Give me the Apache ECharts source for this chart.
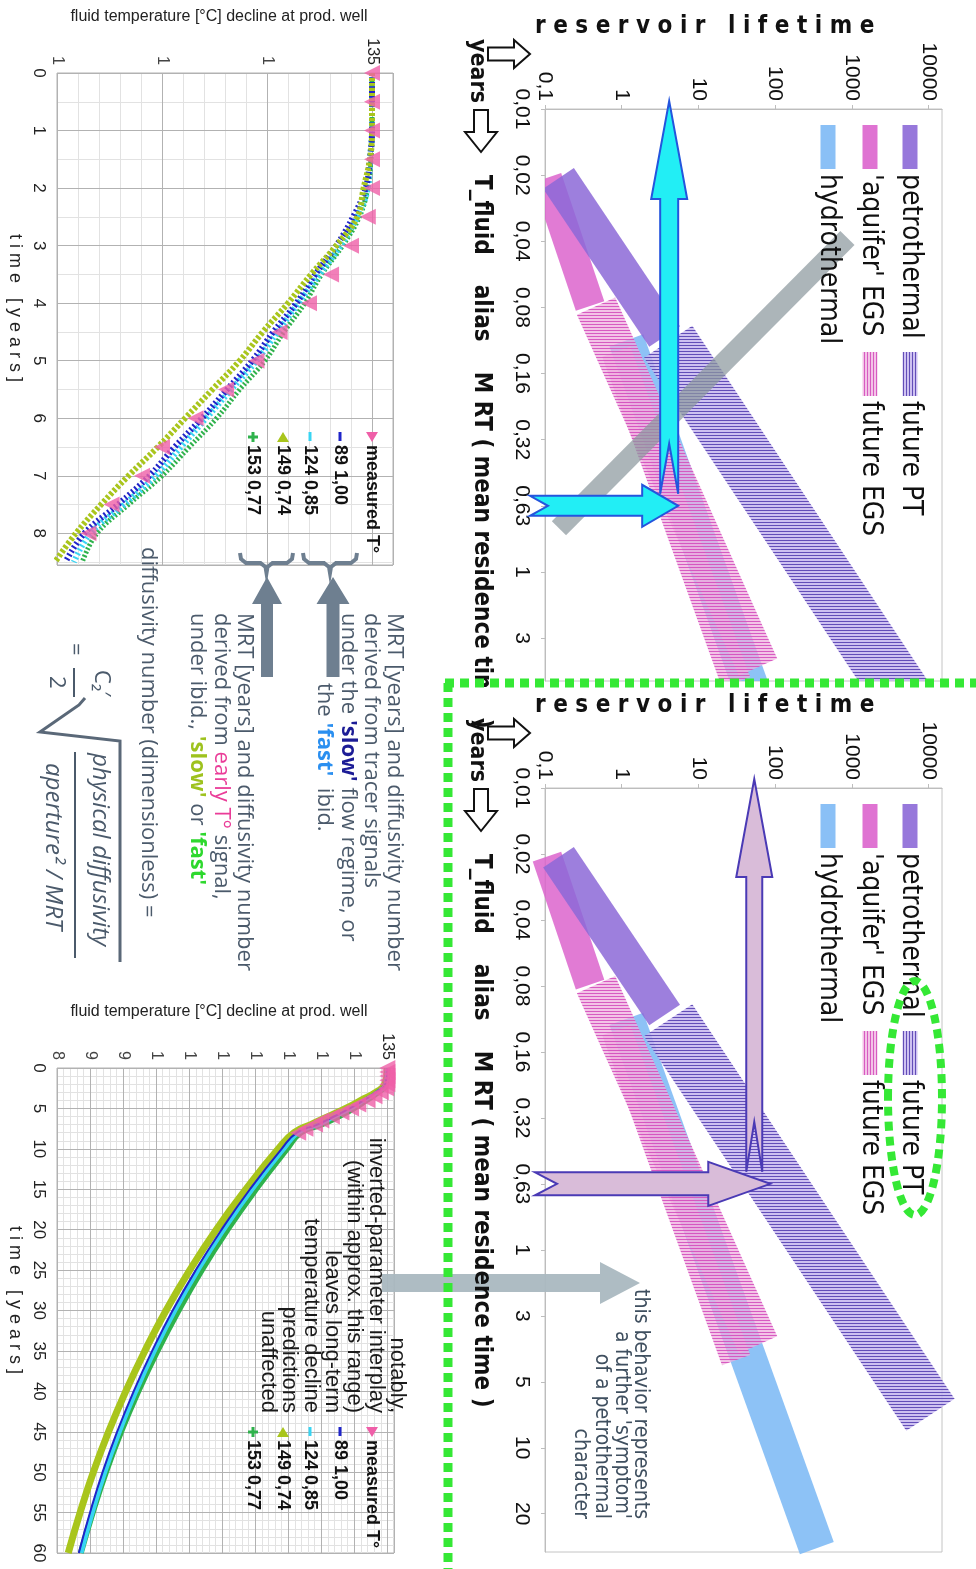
<!DOCTYPE html>
<html>
<head>
<meta charset="utf-8">
<title>Reservoir lifetime vs. MRT</title>
<script src="https://cdn.jsdelivr.net/npm/echarts@6/dist/echarts.min.js"></script>
<style>
html,body{margin:0;padding:0;background:#ffffff;}
#chart{width:976px;height:1569px;}
</style>
</head>
<body>
<div id="chart"></div>
<script>
// ================= DATA =================
// fluid temperature [°C] at the production well, first 8.5 years
const timeEarly = [0,0.5,1,1.5,2,2.5,3,3.5,4,4.5,5,5.5,6,6.5,7,7.5,8,8.5];
const timeMeasured = [0,0.5,1,1.5,2,2.5,3,3.5,4,4.5,5,5.5,6,6.5,7,7.5,8];
const measuredT = [135,135,135,135,135,134.8,134.0,133.05,132.0,130.6,129.5,128.05,126.6,125.0,124.05,122.6,121.5];
const early89_100  = [135,135,135,134.9,134.7,134.1,133.3,132.3,131.4,130.3,129.3,128.1,126.9,125.6,124.4,122.9,121.3,120.4];
const early124_085 = [135,135,135,134.9,134.8,134.3,133.5,132.5,131.5,130.5,129.5,128.3,127.1,125.9,124.7,123.2,121.6,120.8];
const early149_074 = [135,135,135,134.9,134.6,134.3,133.3,132.1,131.0,129.8,128.7,127.4,126.1,124.8,123.4,122.1,120.9,119.9];
const early153_077 = [135,135,135,134.95,134.8,134.4,133.6,132.6,131.8,130.8,129.9,128.7,127.6,126.3,125.0,123.4,121.9,121.2];

// long-term prediction, 0-60 years
const timeLong = [0,2,3,4,5,6,7,8,10,15,20,25,30,35,40,45,50,55,60];
const long89_100  = [135,134.7,133.3,131.4,129.3,126.9,124.4,121.3,119.0,114.2,109.9,106.0,102.5,99.4,96.6,94.1,91.9,90.0,88.3];
const long124_085 = [135,134.8,133.5,131.5,129.5,127.1,124.7,121.6,119.4,114.6,110.3,106.4,102.9,99.8,97.0,94.5,92.3,90.4,88.7];
const long149_074 = [135,134.6,133.3,131.0,128.7,126.1,123.4,120.9,118.5,113.6,109.1,105.1,101.5,98.3,95.4,92.8,90.5,88.5,86.7];
const long153_077 = [135,134.8,133.6,131.8,129.9,127.6,125.0,121.9,119.8,115.1,110.8,106.9,103.4,100.2,97.3,94.7,92.4,90.4,88.6];
const fitLabels = ['89 1,00','124 0,85','149 0,74','153 0,77'];
const measuredLabel = 'measured T°';

// reservoir lifetime (log, years) vs. MRT (ordinal positions of these labels)
const mrtLabels = ['0,01','0,02','0,04','0,08','0,16','0,32','0,63','1','3','5','10','20'];
const bandNames = ['hydrothermal', "'aquifer' EGS", 'petrothermal', 'future EGS', 'future EGS', 'future PT'];
const bandStartLifetime = [1.15, 0.106, 0.15, 0.463, 0.85, 4.03];
const bandStartMRT      = [3.5, 1.04, 1.05, 2.98, 3.67, 3.52];
const bandEndLifetime   = [350, 0.387, 3.63, 60, 31, 10600];
const bandEndMRT        = [11.52, 2.98, 3.44, 8.44, 8.67, 9.5];
const greyBarLifetime = [0.152, 877];
const greyBarMRT = [6.34, 1.95];
const annotC = {lifetime: 4.16, mrt: 6};
const annotD = {lifetime: 53.5, mrt: 6};

// ================= STYLE =================
const FA = '"Liberation Sans", Arial, sans-serif';
const FC = '"DejaVu Sans Condensed", "Liberation Sans Narrow", "Roboto", sans-serif';
const FO = '"Open Sans", "Noto Sans", sans-serif';
const C_PINK = '#ef5fa8', C_BLUE = '#1f24c9', C_CYAN = '#38d4f2', C_YG = '#a9c51c', C_GREEN = '#2fb24c';
const MAJOR = '#b2b2b2', MINOR = '#e2e2e2';

function stripes(bg, fg, step, lw, vertical) {
  const c = document.createElement('canvas'); c.width = step; c.height = step;
  const g = c.getContext('2d'); g.fillStyle = bg; g.fillRect(0, 0, step, step);
  g.fillStyle = fg; if (vertical) g.fillRect(0, 0, lw, step); else g.fillRect(0, 0, step, lw); return c;
}
const PINK_BG = 'rgba(238,172,222,0.72)', PINK_FG = 'rgba(212,80,188,0.9)';
const PURP_BG = 'rgba(198,182,238,0.85)', PURP_FG = 'rgba(88,66,178,0.9)';
const pinkHatch = {image: stripes(PINK_BG, PINK_FG, 3, 1), repeat: 'repeat'};
const purpleHatch = {image: stripes(PURP_BG, PURP_FG, 3, 1), repeat: 'repeat'};
const pinkHatchV = {image: stripes(PINK_BG, PINK_FG, 3, 1, true), repeat: 'repeat'};
const purpleHatchV = {image: stripes(PURP_BG, PURP_FG, 3, 1, true), repeat: 'repeat'};
const BAND_STYLE = [
  {w: 36, fill: 'rgba(125,185,245,0.88)'},
  {w: 30, fill: 'rgba(220,100,205,0.85)'},
  {w: 37, fill: 'rgba(140,105,215,0.85)'},
  {w: 42, fill: pinkHatch},
  {w: 30, fill: pinkHatch},
  {w: 58, fill: purpleHatch}
];

const chart = echarts.init(document.getElementById('chart'), null, {renderer: 'canvas', width: 976, height: 1569});

const zipTT = (times, temps) => temps.map((T, i) => [T, times[i]]);

function bandShape(api, w, fill) {
  const p1 = api.coord([api.value(0), api.value(1)]);
  const p2 = api.coord([api.value(2), api.value(3)]);
  const dx = p2[0] - p1[0], dy = p2[1] - p1[1], L = Math.hypot(dx, dy);
  const nx = -dy / L * w / 2, ny = dx / L * w / 2;
  return {type: 'polygon', shape: {points: [[p1[0]+nx, p1[1]+ny], [p2[0]+nx, p2[1]+ny], [p2[0]-nx, p2[1]-ny], [p1[0]-nx, p1[1]-ny]]}, style: {fill: fill}};
}
function bandSeries(i, ax, clip) {
  return {type: 'custom', name: bandNames[i], xAxisIndex: ax, yAxisIndex: ax, clip: clip, z: 2,
    data: [[bandStartLifetime[i], bandStartMRT[i], bandEndLifetime[i], bandEndMRT[i]]],
    encode: {x: [0, 2], y: [1, 3]},
    renderItem: (p, api) => bandShape(api, BAND_STYLE[i].w, BAND_STYLE[i].fill)};
}

// ----- axes -----
function tempMinor(grid, min, max) {
  return {gridIndex: grid, type: 'value', position: 'bottom', min, max, interval: 1, z: 0,
    axisLine: {show: false}, axisTick: {show: false}, axisLabel: {show: false},
    splitLine: {show: true, lineStyle: {color: MINOR}}};
}
function tempMain(grid, min, max) {
  return {gridIndex: grid, type: 'value', position: 'top', min, max, interval: 5, z: 1,
    axisLine: {show: false}, axisTick: {show: false},
    splitLine: {show: true, lineStyle: {color: MAJOR}},
    axisLabel: {rotate: -90, margin: 8, fontSize: 16, color: '#222', fontFamily: FA, showMaxLabel: false,
      formatter: v => (v === 135 ? '135' : '')}};
}
function tempTrunc(grid, min, max) {
  return {gridIndex: grid, type: 'value', position: 'top', min, max, interval: 5,
    axisLine: {show: false}, axisTick: {show: false}, splitLine: {show: false},
    axisLabel: {rotate: -90, margin: 8, fontSize: 16, color: '#444', fontFamily: FA, showMaxLabel: false,
      width: 10, overflow: 'truncate', ellipsis: '',
      formatter: v => (v !== 135 && v % 5 === 0 ? String(v) : '')}};
}
function timeMinor(grid, max, step) {
  return {gridIndex: grid, type: 'value', position: 'right', inverse: true, min: 0, max, interval: step, z: 0,
    axisLine: {show: false}, axisTick: {show: false}, axisLabel: {show: false},
    splitLine: {show: true, lineStyle: {color: MINOR}}};
}
function timeMain(grid, max, step) {
  return {gridIndex: grid, type: 'value', position: 'left', inverse: true, min: 0, max, interval: step, z: 1,
    axisLine: {show: false}, axisTick: {show: false},
    splitLine: {show: true, lineStyle: {color: MAJOR}},
    axisLabel: {rotate: -90, margin: 10, fontSize: 17, color: '#222', fontFamily: FA,
      formatter: v => (Math.abs(v - Math.round(v)) < 1e-6 && (max === 60 || v <= 8) ? String(Math.round(v)) : '')}};
}
function lifeAxis(grid) {
  return {gridIndex: grid, type: 'log', logBase: 10, position: 'top', min: 0.1, max: 15000,
    axisLine: {show: true, lineStyle: {color: '#bdbdbd'}}, axisTick: {show: true, length: 4, lineStyle: {color: '#bdbdbd'}},
    splitLine: {show: false}, minorTick: {show: false},
    axisLabel: {rotate: -90, margin: 8, fontSize: 21, color: '#111', fontFamily: FA, showMaxLabel: false,
      formatter: v => String(+(+v).toPrecision(6)).replace('.', ',')}};
}
function mrtAxis(grid, max) {
  return {gridIndex: grid, type: 'value', inverse: true, min: 0, max, interval: 1, position: 'left',
    axisLine: {show: true, lineStyle: {color: '#bdbdbd'}}, axisTick: {show: true, length: 4, lineStyle: {color: '#bdbdbd'}},
    splitLine: {show: false},
    axisLabel: {rotate: -90, margin: 13, fontSize: 21, color: '#111', fontFamily: FA, showMaxLabel: false,
      formatter: v => { const r = Math.round(v); return (Math.abs(v - r) < 1e-6 && r < mrtLabels.length) ? mrtLabels[r] : ''; }}};
}
const hiddenY = g => ({gridIndex: g, type: 'value', show: false, min: 0, max: 1});

const option = {
  animation: false,
  backgroundColor: '#ffffff',
  grid: [
    {left: 57, top: 73, width: 336, height: 492, show: true, borderColor: MAJOR, borderWidth: 1},
    {left: 57, top: 1068, width: 337, height: 485, show: true, borderColor: MAJOR, borderWidth: 1},
    {left: 545, top: 109, width: 397, height: 572, show: true, borderColor: '#c4c4c4', borderWidth: 1},
    {left: 545, top: 788, width: 397, height: 764, show: true, borderColor: '#c4c4c4', borderWidth: 1},
    {left: 57, top: 73, width: 336, height: 492},
    {left: 57, top: 1068, width: 337, height: 485}
  ],
  xAxis: [tempMinor(0, 120, 136), tempMain(0, 120, 136), tempMinor(1, 85, 136), tempMain(1, 85, 136),
          lifeAxis(2), lifeAxis(3), tempTrunc(4, 120, 136), tempTrunc(5, 85, 136)],
  yAxis: [timeMinor(0, 8.55, 0.5), timeMain(0, 8.55, 1), timeMinor(1, 60, 1), timeMain(1, 60, 5),
          mrtAxis(2, 8.65), mrtAxis(3, 11.58), hiddenY(4), hiddenY(5)],
  series: [
    // ---- early decline (top left) ----
    {type: 'line', name: fitLabels[3], xAxisIndex: 1, yAxisIndex: 1, data: zipTT(timeEarly, early153_077), smooth: 0.4, symbol: 'none', lineStyle: {color: C_GREEN, width: 5, type: [2, 2]}, z: 3},
    {type: 'line', name: fitLabels[1], xAxisIndex: 1, yAxisIndex: 1, data: zipTT(timeEarly, early124_085), smooth: 0.4, symbol: 'none', lineStyle: {color: C_CYAN, width: 6, type: [2, 2.5]}, z: 3},
    {type: 'line', name: fitLabels[0], xAxisIndex: 1, yAxisIndex: 1, data: zipTT(timeEarly, early89_100), smooth: 0.4, symbol: 'none', lineStyle: {color: C_BLUE, width: 6, type: [2, 2.5]}, z: 4},
    {type: 'line', name: fitLabels[2], xAxisIndex: 1, yAxisIndex: 1, data: zipTT(timeEarly, early149_074), smooth: 0.4, symbol: 'none', lineStyle: {color: C_YG, width: 6, type: [3, 2]}, z: 4},
    {type: 'scatter', name: measuredLabel, xAxisIndex: 1, yAxisIndex: 1, data: zipTT(timeMeasured, measuredT), symbol: 'triangle', symbolSize: 16, symbolRotate: 90, itemStyle: {color: C_PINK}, z: 6},
    // ---- long-term (bottom left) ----
    {type: 'line', name: fitLabels[2], xAxisIndex: 3, yAxisIndex: 3, data: zipTT(timeLong, long149_074), smooth: 0.5, symbol: 'none', lineStyle: {color: C_YG, width: 7}, z: 3},
    {type: 'line', name: fitLabels[3], xAxisIndex: 3, yAxisIndex: 3, data: zipTT(timeLong, long153_077), smooth: 0.5, symbol: 'none', lineStyle: {color: C_GREEN, width: 6}, z: 3},
    {type: 'line', name: fitLabels[1], xAxisIndex: 3, yAxisIndex: 3, data: zipTT(timeLong, long124_085), smooth: 0.5, symbol: 'none', lineStyle: {color: C_CYAN, width: 4}, z: 4},
    {type: 'line', name: fitLabels[0], xAxisIndex: 3, yAxisIndex: 3, data: zipTT(timeLong, long89_100), smooth: 0.5, symbol: 'none', lineStyle: {color: C_BLUE, width: 2}, z: 4},
    {type: 'scatter', name: measuredLabel, xAxisIndex: 3, yAxisIndex: 3, data: zipTT(timeMeasured, measuredT), symbol: 'triangle', symbolSize: 16, symbolRotate: 90, itemStyle: {color: C_PINK}, z: 6},
    // ---- lifetime bands (top right, clipped) ----
    bandSeries(0, 4, true), bandSeries(1, 4, true), bandSeries(2, 4, true), bandSeries(3, 4, true), bandSeries(4, 4, true), bandSeries(5, 4, true),
    {type: 'custom', name: 'range', xAxisIndex: 4, yAxisIndex: 4, clip: true, z: 3,
      data: [[greyBarLifetime[0], greyBarMRT[0], greyBarLifetime[1], greyBarMRT[1]]], encode: {x: [0, 2], y: [1, 3]},
      renderItem: (p, api) => bandShape(api, 20, 'rgba(140,152,158,0.72)')},
    // ---- lifetime bands (bottom right) ----
    bandSeries(0, 5, false), bandSeries(1, 5, false), bandSeries(2, 5, false), bandSeries(3, 5, false), bandSeries(4, 5, false), bandSeries(5, 5, false)
  ]
};
chart.setOption(option);

// ================= ANNOTATIONS =================
const ROT = -Math.PI / 2;
function vtext(x, y, text, font, fill, align, rich) {
  const st = {text, font, fill, textAlign: align || 'left', textVerticalAlign: 'middle', align: align || 'left', verticalAlign: 'middle'};
  if (rich) st.rich = rich;
  return {type: 'text', x, y, rotation: ROT, z: 30, silent: true, style: st};
}
function htext(x, y, text, font, fill, align) {
  return {type: 'text', x, y, z: 30, silent: true, style: {text, font, fill, textAlign: align || 'left', textVerticalAlign: 'middle', align: align || 'left', verticalAlign: 'middle'}};
}
function arrowPts(x1, y1, x2, y2, sw, hw, hl, nd) {
  const dx = x2 - x1, dy = y2 - y1, L = Math.hypot(dx, dy), ux = dx / L, uy = dy / L, vx = -uy, vy = ux;
  const P = (a, b) => [x1 + ux * a + vx * b, y1 + uy * a + vy * b];
  return [P(0, -sw/2), P(L-hl, -sw/2), P(L-hl, -hw/2), P(L, 0), P(L-hl, hw/2), P(L-hl, sw/2), P(0, sw/2), P(nd, 0)];
}
function poly(points, fill, stroke, lw, z) {
  return {type: 'polygon', shape: {points}, z: z || 20, silent: true, style: {fill, stroke: stroke || null, lineWidth: lw || 0}};
}
function pline(points, stroke, lw, dash, z) {
  const st = {stroke, lineWidth: lw, fill: null};
  if (dash) st.lineDash = dash;
  return {type: 'polyline', shape: {points}, z: z || 25, silent: true, style: st};
}
const G = [];

// ---- left charts: titles, axis names, legends ----
[17, 1012].forEach(y => G.push(htext(219, y, 'fluid temperature [°C] decline at prod. well', '16px ' + FA, '#222', 'center')));
G.push(vtext(15, 308, 't i m e   [ y e a r s ]', '18px ' + FA, '#222', 'center'));
G.push(vtext(15, 1300, 't i m e   [ y e a r s ]', '18px ' + FA, '#222', 'center'));

function legendAB(y0) {
  const xs = [372, 340, 310, 283, 253];
  const labels = [measuredLabel].concat(fitLabels);
  G.push(poly([[xs[0]-6, y0], [xs[0]+6, y0], [xs[0], y0+10]], C_PINK, null, 0, 31));
  G.push({type: 'rect', shape: {x: xs[1]-1.5, y: y0, width: 3, height: 9}, z: 31, silent: true, style: {fill: C_BLUE}});
  G.push({type: 'rect', shape: {x: xs[2]-1.5, y: y0, width: 3, height: 9}, z: 31, silent: true, style: {fill: C_CYAN}});
  G.push(poly([[xs[3]-6, y0+10], [xs[3]+6, y0+10], [xs[3], y0]], C_YG, null, 0, 31));
  G.push(poly([[xs[4]-1.5, y0], [xs[4]+1.5, y0], [xs[4]+1.5, y0+3.5], [xs[4]+5, y0+3.5], [xs[4]+5, y0+6.5], [xs[4]+1.5, y0+6.5], [xs[4]+1.5, y0+10], [xs[4]-1.5, y0+10], [xs[4]-1.5, y0+6.5], [xs[4]-5, y0+6.5], [xs[4]-5, y0+3.5], [xs[4]-1.5, y0+3.5]], C_GREEN, null, 0, 31));
  labels.forEach((t, i) => G.push(vtext(xs[i], y0 + 13, t, 'bold 18px ' + FA, '#111', 'left')));
}
legendAB(432);
legendAB(1427);

// ---- "notably ..." inside the long-term chart ----
['notably,', 'inverted-parameter interplay', '(within approx. this range)', 'leaves long-term', 'temperature decline', 'predictions', 'unaffected']
  .forEach((t, i) => G.push(vtext([397, 376, 354, 332, 311, 289, 268][i], 1413, t, '22px ' + FA, '#1a1a1a', 'right')));

// ---- middle explanation ----
const braceCol = '#6e7f90';
function brace(x1, x2, y) {
  const m = (x1 + x2) / 2;
  G.push(pline([[x1, y], [x1+1, y+6], [x1+6, y+10], [m-6, y+10], [m-1, y+14], [m, y+20], [m+1, y+14], [m+6, y+10], [x2-6, y+10], [x2-1, y+6], [x2, y]], braceCol, 4));
}
brace(303, 357, 553);
brace(240, 293, 553);
G.push(poly(arrowPts(333, 677, 333, 577, 13, 33, 27, 0), braceCol));
G.push(poly(arrowPts(267, 677, 267, 577, 12, 30, 27, 0), braceCol));
const TXT = '#4b5a6b';
const FT = '22px ' + FO, FTB = 'bold 22px ' + FO;
G.push(vtext(394, 613, 'MRT [years] and diffusivity number', FT, TXT));
G.push(vtext(371, 613, 'derived from tracer signals', FT, TXT));
G.push(vtext(348, 613, "under the {s|'slow'} flow regime, or", FT, TXT, 'left', {s: {font: FTB, fill: '#1c1c96'}}));
G.push(vtext(324, 683, "the {f|'fast'}  ibid.", FT, TXT, 'left', {f: {font: FTB, fill: '#2a8ff0'}}));
G.push(vtext(244, 613, 'MRT [years] and diffusivity number', FT, TXT));
G.push(vtext(221, 613, 'derived from {e|early T°} signal,', FT, TXT, 'left', {e: {font: FT, fill: '#ea3c98'}}));
G.push(vtext(197, 613, "under ibid., {y|'slow'} or {g|'fast'}", FT, TXT, 'left', {y: {font: FTB, fill: '#9ec21e'}, g: {font: FTB, fill: '#2ed82e'}}));
G.push(vtext(148, 547, 'diffusivity number (dimensionless) =', FT, TXT));
G.push(vtext(75, 643, '=', FT, TXT));
G.push(vtext(101, 670, 'C₂′', FT, TXT));
G.push(pline([[74, 668], [74, 697]], TXT, 2));
G.push(vtext(56, 676, '2', FT, TXT));
G.push(pline([[85, 698], [79, 705], [40, 732], [120, 741], [120, 962]], '#5a6878', 3));
G.push(vtext(100, 753, 'physical diffusivity', 'italic 24px ' + FO, TXT));
G.push(pline([[75, 752], [75, 958]], TXT, 2));
G.push(vtext(53, 763, 'aperture² / MRT', 'italic 24px ' + FO, TXT));

// ---- right charts: headers, axis names, legends ----
function rightHeader(top) {
  G.push(htext(535, top - 82, 'r e s e r v o i r   l i f e t i m e', 'bold 24px ' + FC, '#111', 'left'));
  G.push(poly(arrowPts(488, top - 55, 530, top - 55, 13, 28, 16, 0), '#ffffff', '#111', 2, 28));
  G.push(vtext(477, top - 70, 'years', 'bold 23px ' + FC, '#111'));
  G.push(poly(arrowPts(481, top + 1, 481, top + 43, 14, 32, 20, 0), '#ffffff', '#111', 2, 28));
  G.push(vtext(481, top + 66, 'T_fluid    alias    M RT ( mean residence time )', 'bold 24px ' + FC, '#111'));
}
rightHeader(109);
rightHeader(788);
// hide the part of the upper axis title that runs into the lower panel
G.push({type: 'rect', shape: {x: 458, y: 687, width: 44, height: 26}, z: 60, silent: true, style: {fill: '#ffffff'}});

function legendCD(top) {
  const cols = [910, 870, 828];
  const sw = [[cols[0], top + 16, 'rgba(140,105,215,0.9)', bandNames[2]], [cols[1], top + 16, 'rgba(220,100,205,0.9)', bandNames[1]], [cols[2], top + 16, 'rgba(125,185,245,0.9)', bandNames[0]],
              [cols[0], top + 243, purpleHatchV, bandNames[5]], [cols[1], top + 243, pinkHatchV, bandNames[3]]];
  sw.forEach(s => {
    G.push({type: 'rect', shape: {x: s[0] - 7.5, y: s[1], width: 15, height: 44}, z: 30, silent: true, style: {fill: s[2]}});
    G.push(vtext(s[0], s[1] + 49, s[3], '28px ' + FC, '#111'));
  });
}
legendCD(109);
legendCD(788);

// ---- arrows pointing at the lifetime for MRT 0,63 ----
const pc = chart.convertToPixel({xAxisIndex: 4, yAxisIndex: 4}, [annotC.lifetime, annotC.mrt]);
G.push(poly(arrowPts(pc[0], pc[1] - 12, pc[0], 101, 18, 36, 98, 50), '#22eef5', '#2455dd', 2, 22));
G.push(poly(arrowPts(530, pc[1], pc[0] + 9, pc[1], 20, 42, 36, 18), '#22eef5', '#2455dd', 2, 22));
const pd = chart.convertToPixel({xAxisIndex: 5, yAxisIndex: 5}, [annotD.lifetime, annotD.mrt]);
G.push(poly(arrowPts(pd[0], pd[1] - 12, pd[0], 779, 16, 36, 98, 50), '#d9bcd9', '#4a3ab5', 2, 22));
G.push(poly(arrowPts(535, pd[1], pd[0] + 16, pd[1], 23, 44, 62, 22), '#d9bcd9', '#4a3ab5', 2, 22));

// ---- grey connector arrow and remark ----
G.push(poly(arrowPts(382, 1283, 640, 1283, 18, 42, 40, 0), 'rgba(170,184,192,0.95)', null, 0, 24));
['this behavior represents', "a further 'symptom'", 'of a petrothermal', 'character']
  .forEach((t, i) => G.push(vtext([640, 621, 601, 580][i], 1519, t, '21px ' + FC, '#3f4f5f', 'right')));

// ---- green dashed frame and ellipse ----
G.push(pline([[445, 683], [976, 683]], '#35e835', 9, [9, 6], 70));
G.push(pline([[448, 683], [448, 1569]], '#35e835', 9, [9, 6], 70));
G.push({type: 'ellipse', shape: {cx: 915, cy: 1098, rx: 27, ry: 117}, z: 70, silent: true, style: {fill: null, stroke: '#35e835', lineWidth: 8, lineDash: [9, 6]}});

chart.setOption({graphic: G});
</script>
</body>
</html>
